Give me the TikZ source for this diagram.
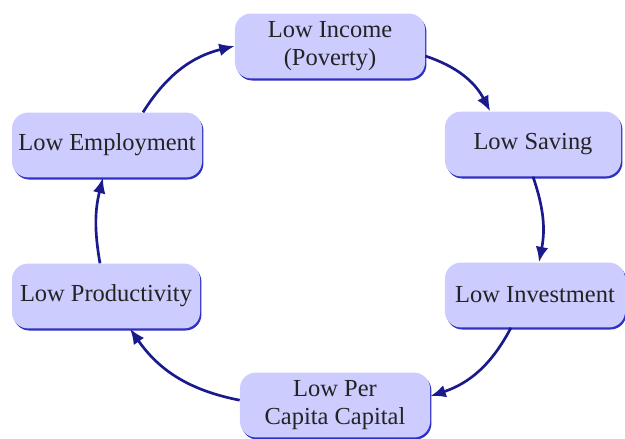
\documentclass[tikz,border=0pt]{standalone}
\usepackage{fontspec}
\setmainfont{Liberation Serif}
\usepackage{tikz}
\usetikzlibrary{positioning,arrows.meta,shadows}
\definecolor{boxfill}{RGB}{204,204,255}
\definecolor{boxedge}{RGB}{48,48,196}
\definecolor{arrowblue}{RGB}{26,26,140}
\definecolor{textgrey}{RGB}{35,35,35}

\begin{document}
\begin{tikzpicture}[x=0.025cm, y=-0.025cm,
    stage/.style={rectangle, rounded corners=0.4cm, fill=boxfill,
        drop shadow={shadow xshift=1pt, shadow yshift=-1.5pt, fill=boxedge, opacity=1},
        minimum width=4.75cm, minimum height=1.62cm, align=center,
        text=textgrey, font=\rmfamily\fontsize{17.4}{19.5}\selectfont},
    flow/.style={-{Latex[length=11pt,width=9pt]}, line width=1.9pt, draw=arrowblue}]
    \useasboundingbox (0,0) rectangle (625,439);
    % the six stages of the cycle
    \node[stage] (income) at (330,46) {Low Income\\(Poverty)};
    \node[stage, minimum width=4.4cm] (saving) at (533,144) {Low Saving};
    \node[stage, minimum width=4.5cm] (invest) at (535,295) {Low Investment};
    \node[stage] (capital) at (335,405) {Low Per\\Capita Capital};
    \node[stage, minimum width=4.7cm] (product) at (106,296) {Low Productivity};
    \node[stage] (employ) at (107,145) {Low Employment};
    % clockwise arrows
    \draw[flow] ([yshift=-0.25cm]income.east) to[bend left=22] ([xshift=-1.07cm]saving.north);
    \draw[flow] (saving.south) to[bend left=15] ([xshift=0.1cm]invest.north);
    \draw[flow] ([xshift=-0.6cm]invest.south) to[bend left=22] ([yshift=0.22cm]capital.east);
    \draw[flow] ([yshift=0.12cm]capital.west) to[bend left=22] ([xshift=0.6cm]product.south);
    \draw[flow] ([xshift=-0.15cm]product.north) to[bend left=12] ([xshift=-0.1cm]employ.south);
    \draw[flow] ([xshift=0.9cm]employ.north) to[bend left=22] (income.west);
\end{tikzpicture}
\end{document}
